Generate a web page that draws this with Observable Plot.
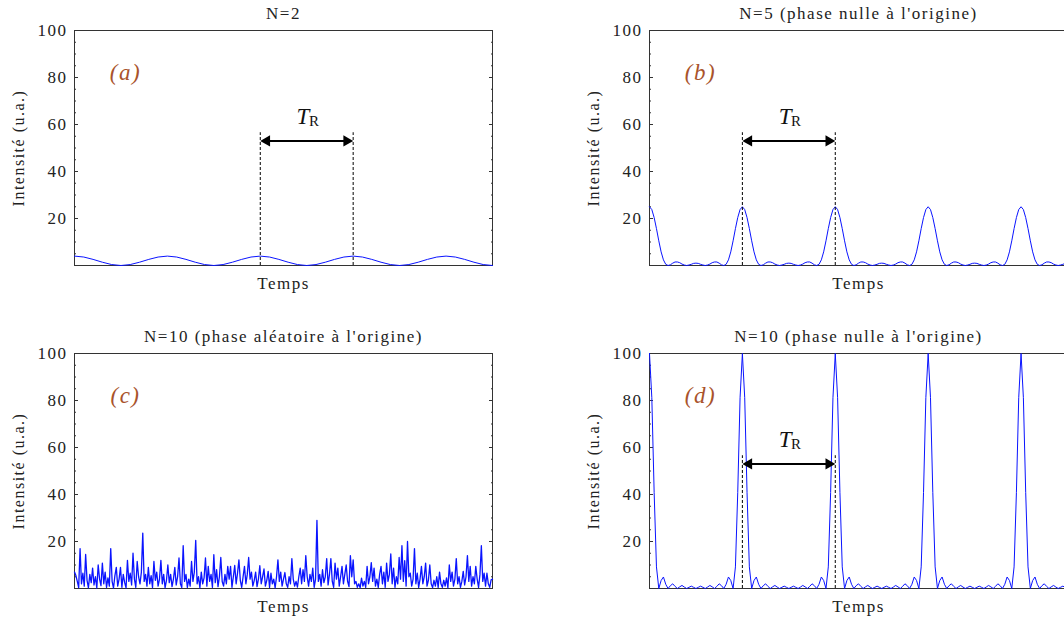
<!DOCTYPE html>
<html>
<head>
<meta charset="utf-8">
<script src="https://cdn.jsdelivr.net/npm/d3@7"></script>
<script src="https://cdn.jsdelivr.net/npm/@observablehq/plot@0.6"></script>
<style>
html, body { margin: 0; padding: 0; background: #fff; width: 1064px; height: 620px; overflow: hidden; }
#root { position: relative; width: 1064px; height: 620px; overflow: hidden; font-family: "Liberation Serif", serif; }
.panel { position: absolute; width: 532px; height: 310px; }
.panel svg { max-width: none !important; font-family: "Liberation Serif", serif !important; }
#root svg text { letter-spacing: 1.5px; font-family: "Liberation Serif", serif; }
</style>
</head>
<body>
<div id="root"></div>
<script>
// ---------------- data ----------------
const panelTitles = ["N=2", "N=5 (phase nulle à l'origine)", "N=10 (phase aléatoire à l'origine)", "N=10 (phase nulle à l'origine)"];
const panelTags = ["(a)", "(b)", "(c)", "(d)"];
const xLabel = "Temps";
const yLabel = "Intensité (u.a.)";
const yTicks = [20, 40, 60, 80, 100];
const yMinorTicks = [5, 10, 15, 25, 30, 35, 45, 50, 55, 65, 70, 75, 85, 90, 95];
const timeSpan = [0, 4.5];          // in units of T_R

// (a) N=2, sample step 0.1 T_R
const stepA = 0.1;
const intensityA = [
  4, 3.6, 2.6, 1.4, 0.4, 0, 0.4, 1.4, 2.6, 3.6,
  4, 3.6, 2.6, 1.4, 0.4, 0, 0.4, 1.4, 2.6, 3.6,
  4, 3.6, 2.6, 1.4, 0.4, 0, 0.4, 1.4, 2.6, 3.6,
  4, 3.6, 2.6, 1.4, 0.4, 0, 0.4, 1.4, 2.6, 3.6,
  4, 3.6, 2.6, 1.4, 0.4, 0
];

// (b) N=5 zero phase, sample step 0.025 T_R
const stepB = 0.025;
const intensityB = [
  25, 23.8, 20.4, 15.7, 10.5, 5.8, 2.4, 0.5, 0, 0.3, 1, 1.5, 1.5, 1.2, 0.6, 0.2, 0, 0.2, 0.5, 0.9,
  1, 0.9, 0.5, 0.2, 0, 0.2, 0.6, 1.2, 1.5, 1.5, 1, 0.3, 0, 0.5, 2.4, 5.8, 10.5, 15.7, 20.4, 23.8,
  25, 23.8, 20.4, 15.7, 10.5, 5.8, 2.4, 0.5, 0, 0.3, 1, 1.5, 1.5, 1.2, 0.6, 0.2, 0, 0.2, 0.5, 0.9,
  1, 0.9, 0.5, 0.2, 0, 0.2, 0.6, 1.2, 1.5, 1.5, 1, 0.3, 0, 0.5, 2.4, 5.8, 10.5, 15.7, 20.4, 23.8,
  25, 23.8, 20.4, 15.7, 10.5, 5.8, 2.4, 0.5, 0, 0.3, 1, 1.5, 1.5, 1.2, 0.6, 0.2, 0, 0.2, 0.5, 0.9,
  1, 0.9, 0.5, 0.2, 0, 0.2, 0.6, 1.2, 1.5, 1.5, 1, 0.3, 0, 0.5, 2.4, 5.8, 10.5, 15.7, 20.4, 23.8,
  25, 23.8, 20.4, 15.7, 10.5, 5.8, 2.4, 0.5, 0, 0.3, 1, 1.5, 1.5, 1.2, 0.6, 0.2, 0, 0.2, 0.5, 0.9,
  1, 0.9, 0.5, 0.2, 0, 0.2, 0.6, 1.2, 1.5, 1.5, 1, 0.3, 0, 0.5, 2.4, 5.8, 10.5, 15.7, 20.4, 23.8,
  25, 23.8, 20.4, 15.7, 10.5, 5.8, 2.4, 0.5, 0, 0.3, 1, 1.5, 1.5, 1.2, 0.6, 0.2, 0, 0.2, 0.5, 0.9,
  1
];

// (c) N=10 random phases, sample step 0.015 T_R
const stepC = 0.015;
const intensityC = [
  7, 5.5, 3, 0.4, 17, 2, 6.5, 1, 14.5, 3.5,
  0.3, 6, 2.5, 8.7, 1.5, 5, 0.2, 10, 4, 1.2,
  10.8, 2, 7, 0.5, 4.5, 1, 17, 3, 0.2, 5.5,
  9, 1, 4, 9, 0.5, 6, 2.5, 0.3, 12, 3,
  6.5, 1.5, 15, 4, 0.5, 11.5, 5, 2, 7, 23.6,
  3, 6, 1, 9, 2, 5.5, 0.4, 11.5, 3.5, 7,
  1, 4, 12, 2, 6, 0.3, 3.5, 10, 2.5, 6,
  0.8, 4, 9, 1.5, 5, 13, 2, 0.4, 18.2, 3,
  6, 0.5, 4, 1, 11.5, 3, 7, 20.5, 2, 5,
  0.3, 7, 2, 4.5, 13, 1, 9.4, 3, 6, 0.5,
  14.4, 2.5, 8, 0.8, 5, 13.2, 3, 1, 6, 2,
  9.4, 4, 9.4, 0.5, 5, 9.8, 2, 6.5, 12.2, 3.5,
  0.5, 5, 9.4, 2, 6, 13.2, 4, 7, 1, 3.5,
  7, 0.8, 4, 9.7, 2, 5, 8.3, 1, 3.5, 7.3,
  0.5, 6.5, 2, 4, 0.3, 5, 12.2, 3, 7, 1,
  4, 6.8, 2, 0.5, 5, 2, 12.7, 4, 1, 3,
  0.6, 5, 8.7, 2, 8, 3, 14, 5, 1, 6,
  3, 8.7, 0.5, 4, 29, 3, 6, 1, 8, 2.5,
  5, 12.7, 1.5, 6, 12.7, 3, 0.5, 10.8, 4, 8.7,
  1, 5, 9.4, 2, 6, 10, 3, 0.8, 14, 5,
  12.2, 2, 3, 0.5, 2, 0.3, 4.4, 1, 3, 0.5,
  9.4, 2, 5, 11, 3, 8.7, 1, 4, 0.5, 6,
  9.4, 2, 7, 0.5, 10.8, 3, 6, 14.7, 2, 8.7,
  0.5, 5, 2, 13.2, 4, 18.2, 3, 11.8, 1, 20,
  5, 6.5, 1, 4, 17, 2, 6.5, 0.5, 4, 9.4,
  2, 5, 10.8, 1, 3.5, 10, 2, 0.4, 3.5, 1,
  5, 0.5, 7, 2, 0.5, 3.5, 1, 4.5, 0.3, 10,
  3, 7, 1, 4, 12.7, 2, 5, 0.5, 3, 7.3,
  1.5, 5, 14, 3, 9.4, 1, 5, 2, 9.4, 4,
  0.5, 6, 18.2, 3, 6.5, 1, 6.5, 2, 0.5, 3.7, 4
];

// (d) N=10 zero phase, sample step 0.025 T_R
const stepD = 0.025;
const intensityD = [
  100, 81.2, 40.9, 9.2, 0, 3.4, 4.9, 1.8, 0, 1.2, 2, 0.9, 0, 0.7, 1.3, 0.6, 0, 0.5, 1, 0.5,
  0, 0.5, 1, 0.5, 0, 0.6, 1.3, 0.7, 0, 0.9, 2, 1.2, 0, 1.8, 4.9, 3.4, 0, 9.2, 40.9, 81.2,
  100, 81.2, 40.9, 9.2, 0, 3.4, 4.9, 1.8, 0, 1.2, 2, 0.9, 0, 0.7, 1.3, 0.6, 0, 0.5, 1, 0.5,
  0, 0.5, 1, 0.5, 0, 0.6, 1.3, 0.7, 0, 0.9, 2, 1.2, 0, 1.8, 4.9, 3.4, 0, 9.2, 40.9, 81.2,
  100, 81.2, 40.9, 9.2, 0, 3.4, 4.9, 1.8, 0, 1.2, 2, 0.9, 0, 0.7, 1.3, 0.6, 0, 0.5, 1, 0.5,
  0, 0.5, 1, 0.5, 0, 0.6, 1.3, 0.7, 0, 0.9, 2, 1.2, 0, 1.8, 4.9, 3.4, 0, 9.2, 40.9, 81.2,
  100, 81.2, 40.9, 9.2, 0, 3.4, 4.9, 1.8, 0, 1.2, 2, 0.9, 0, 0.7, 1.3, 0.6, 0, 0.5, 1, 0.5,
  0, 0.5, 1, 0.5, 0, 0.6, 1.3, 0.7, 0, 0.9, 2, 1.2, 0, 1.8, 4.9, 3.4, 0, 9.2, 40.9, 81.2,
  100, 81.2, 40.9, 9.2, 0, 3.4, 4.9, 1.8, 0, 1.2, 2, 0.9, 0, 0.7, 1.3, 0.6, 0, 0.5, 1, 0.5,
  0
];

// T_R intervals (start, end), in units of T_R
const periodA = [2, 3];
const periodB = [1, 2];
const periodD = [1, 2];
const periodLabel = ["T", "R"];

// ---------------- drawing ----------------
const ARROW_LEVEL = 53, DASH_TOP = 56.5, LABEL_LEVEL = 63.5;
const ink = "#222";
const serif = "Liberation Serif";

function makePanel({title, tag, values, step, period, lineWidth}) {
  const data = values.map((v, i) => ({t: i * step, v}));
  const marks = [
    Plot.frame({stroke: "#333", strokeWidth: 1}),
    Plot.axisY(yMinorTicks, {anchor: "left", tickSize: -2, fill: "none", label: null, stroke: "#333"}),
    Plot.axisY(yMinorTicks, {anchor: "right", tickSize: -2, fill: "none", label: null, stroke: "#333"}),
    Plot.axisY(yTicks, {anchor: "left", tickSize: -4, tickPadding: 11, label: null, fontSize: 17, fontFamily: serif, stroke: "#333", fill: ink}),
    Plot.axisY(yTicks, {anchor: "right", tickSize: -4, fill: "none", label: null, stroke: "#333"}),
    Plot.line(data, {x: "t", y: "v", stroke: "#0a14ff", strokeWidth: lineWidth}),
    Plot.text([title], {frameAnchor: "top", dy: -17, lineAnchor: "middle", textAnchor: "middle", fontSize: 17, fontFamily: serif, fill: ink}),
    Plot.text([xLabel], {frameAnchor: "bottom", dy: 18, lineAnchor: "middle", textAnchor: "middle", fontSize: 17, fontFamily: serif, fill: ink}),
    Plot.text([yLabel], {frameAnchor: "left", dx: -56, rotate: -90, lineAnchor: "middle", textAnchor: "middle", fontSize: 16, fontFamily: serif, fill: ink}),
    Plot.text([tag], {frameAnchor: "top-left", dx: 51, dy: 42, lineAnchor: "middle", textAnchor: "middle", fontSize: 23, fontStyle: "italic", fontFamily: serif, fill: "#a9532b"})
  ];
  if (period) {
    const [s, e] = period;
    const mid = (s + e) / 2;
    marks.push(
      Plot.ruleX(period, {y1: 0, y2: DASH_TOP, stroke: "#000", strokeWidth: 1, strokeDasharray: "3,2"}),
      Plot.ruleY([ARROW_LEVEL], {x1: s, x2: e, stroke: "#000", strokeWidth: 2, insetLeft: 6, insetRight: 6}),
      Plot.dot([s], {x: d => d, y: ARROW_LEVEL, symbol: "triangle", r: 4.2, fill: "#000", stroke: "none", rotate: -90, dx: 6.5}),
      Plot.dot([e], {x: d => d, y: ARROW_LEVEL, symbol: "triangle", r: 4.2, fill: "#000", stroke: "none", rotate: 90, dx: -6.5}),
      Plot.text([periodLabel[0]], {x: mid, y: LABEL_LEVEL, dx: -3, fontSize: 23, fontStyle: "italic", fontFamily: serif, fill: "#111"}),
      Plot.text([periodLabel[1]], {x: mid, y: LABEL_LEVEL, dx: 8, dy: 5, fontSize: 15, fontFamily: serif, fill: "#111"})
    );
  }
  return Plot.plot({
    width: 532,
    height: 310,
    marginLeft: 74,
    marginRight: 40,
    marginTop: 30,
    marginBottom: 45,
    x: {domain: timeSpan, axis: null},
    y: {domain: [0, 100]},
    style: {fontFamily: "'Liberation Serif', serif", color: ink, background: "transparent", overflow: "visible", maxWidth: "none"},
    marks
  });
}

const root = document.getElementById("root");
const specs = [
  {title: panelTitles[0], tag: panelTags[0], values: intensityA, step: stepA, period: periodA, lineWidth: 1, left: 0, top: 0},
  {title: panelTitles[1], tag: panelTags[1], values: intensityB, step: stepB, period: periodB, lineWidth: 1, left: 575, top: 0},
  {title: panelTitles[2], tag: panelTags[2], values: intensityC, step: stepC, period: null, lineWidth: 1.3, left: 0, top: 323},
  {title: panelTitles[3], tag: panelTags[3], values: intensityD, step: stepD, period: periodD, lineWidth: 1, left: 575, top: 323}
];
for (const s of specs) {
  const div = document.createElement("div");
  div.className = "panel";
  div.style.left = s.left + "px";
  div.style.top = s.top + "px";
  div.appendChild(makePanel(s));
  root.appendChild(div);
}
</script>
</body>
</html>
